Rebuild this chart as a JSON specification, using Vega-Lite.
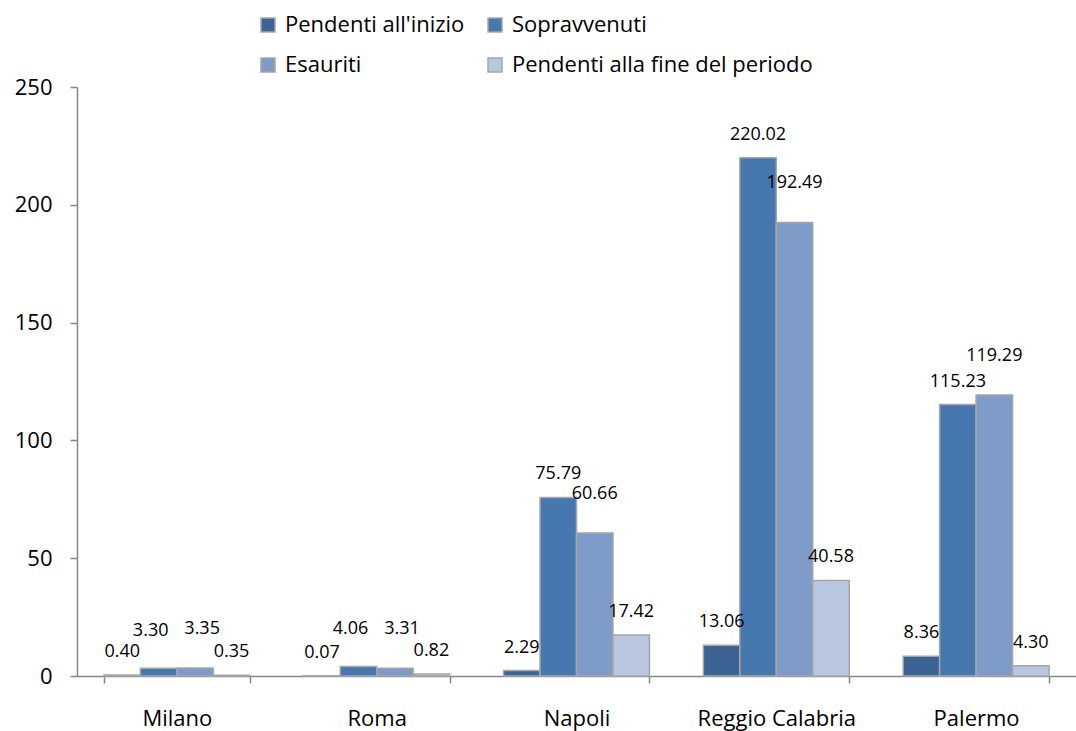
{
  "$schema": "https://vega.github.io/schema/vega-lite/v6.json",
  "width": 999,
  "height": 589,
  "autosize": {"type": "none"},
  "padding": {"left": 77, "top": 87, "right": 0, "bottom": 55},
  "background": "white",
  "config": {
    "view": {"stroke": null},
    "font": "Open Sans",
    "axis": {"labelFont": "Open Sans", "labelColor": "#000000", "grid": false},
    "legend": {"labelFont": "Open Sans"}
  },
  "data": {
    "values": [
      {"citta": "Milano", "serie": "Pendenti all'inizio", "valore": 0.40},
      {"citta": "Milano", "serie": "Sopravvenuti", "valore": 3.30},
      {"citta": "Milano", "serie": "Esauriti", "valore": 3.35},
      {"citta": "Milano", "serie": "Pendenti alla fine del periodo", "valore": 0.35},
      {"citta": "Roma", "serie": "Pendenti all'inizio", "valore": 0.07},
      {"citta": "Roma", "serie": "Sopravvenuti", "valore": 4.06},
      {"citta": "Roma", "serie": "Esauriti", "valore": 3.31},
      {"citta": "Roma", "serie": "Pendenti alla fine del periodo", "valore": 0.82},
      {"citta": "Napoli", "serie": "Pendenti all'inizio", "valore": 2.29},
      {"citta": "Napoli", "serie": "Sopravvenuti", "valore": 75.79},
      {"citta": "Napoli", "serie": "Esauriti", "valore": 60.66},
      {"citta": "Napoli", "serie": "Pendenti alla fine del periodo", "valore": 17.42},
      {"citta": "Reggio Calabria", "serie": "Pendenti all'inizio", "valore": 13.06},
      {"citta": "Reggio Calabria", "serie": "Sopravvenuti", "valore": 220.02},
      {"citta": "Reggio Calabria", "serie": "Esauriti", "valore": 192.49},
      {"citta": "Reggio Calabria", "serie": "Pendenti alla fine del periodo", "valore": 40.58},
      {"citta": "Palermo", "serie": "Pendenti all'inizio", "valore": 8.36},
      {"citta": "Palermo", "serie": "Sopravvenuti", "valore": 115.23},
      {"citta": "Palermo", "serie": "Esauriti", "valore": 119.29},
      {"citta": "Palermo", "serie": "Pendenti alla fine del periodo", "valore": 4.30}
    ]
  },
  "encoding": {
    "x": {
      "field": "citta",
      "type": "nominal",
      "sort": ["Milano", "Roma", "Napoli", "Reggio Calabria", "Palermo"],
      "scale": {"paddingInner": 0.27, "paddingOuter": 0.135},
      "axis": {
        "title": null,
        "labelAngle": 0,
        "labelFontSize": 22,
        "labelPadding": 25,
        "tickBand": "extent",
        "tickSize": 7,
        "tickColor": "#868686",
        "domainColor": "#868686",
        "domainWidth": 1.5,
        "tickWidth": 1.5
      }
    },
    "xOffset": {
      "field": "serie",
      "type": "nominal",
      "sort": ["Pendenti all'inizio", "Sopravvenuti", "Esauriti", "Pendenti alla fine del periodo"],
      "scale": {"paddingInner": 0, "paddingOuter": 0}
    },
    "y": {
      "field": "valore",
      "type": "quantitative",
      "scale": {"domain": [0, 250], "nice": false},
      "axis": {
        "title": null,
        "values": [0, 50, 100, 150, 200, 250],
        "labelFontSize": 22,
        "labelPadding": 18,
        "tickSize": 7,
        "tickColor": "#868686",
        "domainColor": "#868686",
        "domainWidth": 1.5,
        "tickWidth": 1.5
      }
    }
  },
  "layer": [
    {
      "mark": {"type": "bar", "stroke": "#A6A6A6", "strokeWidth": 1.5},
      "encoding": {
        "color": {
          "field": "serie",
          "type": "nominal",
          "scale": {
            "domain": ["Pendenti all'inizio", "Sopravvenuti", "Esauriti", "Pendenti alla fine del periodo"],
            "range": ["#3B6495", "#4677AF", "#7F9BC8", "#B8C6E0"]
          },
          "legend": {
            "title": null,
            "orient": "none",
            "legendX": 180,
            "legendY": -73,
            "direction": "horizontal",
            "columns": 2,
            "columnPadding": 19,
            "rowPadding": 18,
            "symbolType": "square",
            "symbolSize": 196,
            "symbolStrokeColor": "#A6A6A6",
            "symbolStrokeWidth": 1.5,
            "labelFontSize": 22,
            "labelColor": "#000000",
            "labelOffset": 6,
            "labelLimit": 400
          }
        }
      }
    },
    {
      "mark": {
        "type": "text",
        "baseline": "bottom",
        "dy": {"expr": "datum.serie === 'Esauriti' ? -30 : (datum.serie === 'Sopravvenuti' && datum.valore < 10 ? -28 : -14)"},
        "dx": {"expr": "datum.valore < 10 ? (datum.serie === 'Sopravvenuti' ? -8 : (datum.serie === 'Esauriti' ? 7 : 0)) : 0"},
        "fontSize": 18,
        "color": "#000000"
      },
      "encoding": {
        "text": {"field": "valore", "type": "quantitative", "format": ".2f"}
      }
    }
  ]
}
